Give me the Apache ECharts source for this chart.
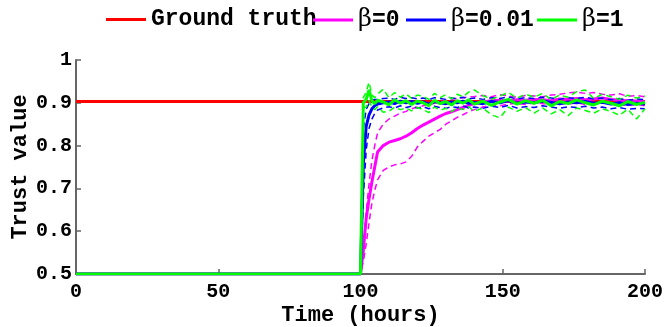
<!DOCTYPE html>
<html>
<head>
<meta charset="utf-8">
<script src="https://cdn.jsdelivr.net/npm/echarts@6/dist/echarts.min.js"></script>
<style>
  html, body { margin: 0; padding: 0; background: #fff; }
  #chart { width: 665px; height: 327px; }
</style>
</head>
<body>
<div id="chart"></div>
<script>
// sample times (hours)
const hours = [0, 100, 101, 102, 103, 104, 105, 106, 108, 110, 112, 114, 116, 118, 120, 122, 124, 126, 128, 130,
  132, 134, 136, 138, 140, 143, 146, 149, 152, 155, 158, 161, 164, 167, 170, 173, 176, 179, 182, 185, 188, 191, 194, 197, 200];

const truthHours = [0, 200];
const groundTruth = [0.903, 0.903];

// beta = 0 (mean, upper, lower)
const b0Mean = [0.5, 0.5, 0.555, 0.63, 0.675, 0.715, 0.75, 0.785, 0.80, 0.808, 0.812, 0.816, 0.822, 0.83, 0.84, 0.848, 0.855, 0.862, 0.869, 0.875,
  0.879, 0.884, 0.889, 0.894, 0.898, 0.902, 0.905, 0.906, 0.904, 0.907, 0.906, 0.908, 0.907, 0.905, 0.909, 0.908, 0.91, 0.907, 0.909, 0.911, 0.908, 0.906, 0.905, 0.904, 0.903];
const b0Upper = [0.5, 0.5, 0.565, 0.645, 0.71, 0.765, 0.80, 0.83, 0.85, 0.862, 0.869, 0.876, 0.88, 0.886, 0.89, 0.893, 0.896, 0.899, 0.902, 0.906,
  0.908, 0.91, 0.912, 0.914, 0.915, 0.917, 0.914, 0.919, 0.916, 0.913, 0.917, 0.916, 0.914, 0.918, 0.92, 0.923, 0.925, 0.922, 0.924, 0.92, 0.918, 0.921, 0.915, 0.917, 0.914];
const b0Lower = [0.5, 0.5, 0.53, 0.57, 0.62, 0.665, 0.695, 0.72, 0.742, 0.75, 0.755, 0.757, 0.762, 0.775, 0.797, 0.81, 0.822, 0.83, 0.838, 0.85,
  0.858, 0.866, 0.872, 0.879, 0.884, 0.89, 0.895, 0.893, 0.897, 0.899, 0.896, 0.9, 0.898, 0.895, 0.899, 0.897, 0.9, 0.896, 0.898, 0.901, 0.897, 0.895, 0.894, 0.896, 0.893];

// beta = 0.01
const b001Mean = [0.5, 0.5, 0.76, 0.845, 0.872, 0.886, 0.893, 0.897, 0.9, 0.902, 0.898, 0.904, 0.9, 0.903, 0.899, 0.902, 0.897, 0.903, 0.9, 0.898,
  0.902, 0.9, 0.904, 0.899, 0.901, 0.898, 0.903, 0.9, 0.905, 0.899, 0.902, 0.9, 0.904, 0.901, 0.898, 0.902, 0.9, 0.903, 0.899, 0.901, 0.897, 0.9, 0.896, 0.899, 0.897];
const b001Upper = [0.5, 0.5, 0.84, 0.885, 0.898, 0.905, 0.908, 0.908, 0.91, 0.911, 0.908, 0.913, 0.91, 0.912, 0.909, 0.911, 0.907, 0.912, 0.91, 0.908,
  0.911, 0.91, 0.913, 0.909, 0.911, 0.908, 0.912, 0.91, 0.914, 0.909, 0.912, 0.91, 0.913, 0.911, 0.908, 0.912, 0.91, 0.913, 0.909, 0.911, 0.907, 0.91, 0.906, 0.909, 0.907];
const b001Lower = [0.5, 0.5, 0.68, 0.79, 0.84, 0.862, 0.875, 0.883, 0.888, 0.891, 0.888, 0.893, 0.889, 0.892, 0.888, 0.891, 0.886, 0.892, 0.889, 0.887,
  0.891, 0.889, 0.893, 0.888, 0.89, 0.887, 0.892, 0.889, 0.894, 0.888, 0.891, 0.889, 0.893, 0.89, 0.887, 0.891, 0.889, 0.892, 0.888, 0.89, 0.886, 0.889, 0.885, 0.887, 0.886];

// beta = 1
const b1Mean = [0.5, 0.5, 0.9, 0.908, 0.93, 0.905, 0.898, 0.906, 0.902, 0.895, 0.907, 0.899, 0.905, 0.896, 0.904, 0.9, 0.893, 0.906, 0.898, 0.903,
  0.895, 0.905, 0.899, 0.907, 0.897, 0.904, 0.894, 0.902, 0.908, 0.897, 0.905, 0.899, 0.906, 0.893, 0.903, 0.898, 0.907, 0.9, 0.895, 0.904, 0.899, 0.893, 0.903, 0.896, 0.901];
const b1Upper = [0.5, 0.5, 0.912, 0.925, 0.948, 0.918, 0.912, 0.92, 0.932, 0.912, 0.924, 0.913, 0.921, 0.91, 0.918, 0.915, 0.908, 0.922, 0.912, 0.919,
  0.909, 0.92, 0.914, 0.925, 0.93, 0.917, 0.908, 0.916, 0.924, 0.911, 0.92, 0.913, 0.922, 0.908, 0.918, 0.913, 0.926, 0.93, 0.91, 0.92, 0.914, 0.908, 0.918, 0.911, 0.916];
const b1Lower = [0.5, 0.5, 0.888, 0.89, 0.905, 0.89, 0.884, 0.891, 0.878, 0.88, 0.89, 0.884, 0.888, 0.881, 0.889, 0.884, 0.877, 0.89, 0.883, 0.887,
  0.879, 0.889, 0.884, 0.891, 0.88, 0.888, 0.872, 0.865, 0.89, 0.88, 0.889, 0.876, 0.888, 0.874, 0.884, 0.87, 0.888, 0.882, 0.876, 0.886, 0.88, 0.871, 0.885, 0.862, 0.886];

const yTicks = [0.5, 0.6, 0.7, 0.8, 0.9, 1];

const FONT = 'Liberation Mono';

function pairs(xs, ys) {
  return xs.map((x, i) => [x, ys[i]]);
}

function solid(name, color, xs, ys) {
  return {
    name: name, type: 'line', symbol: 'none', animation: false,
    lineStyle: { color: color, width: 3 }, itemStyle: { color: color },
    data: pairs(xs, ys)
  };
}
function dashed(name, color, ys) {
  return {
    name: name, type: 'line', symbol: 'none', animation: false, silent: true,
    lineStyle: { color: color, width: 1.5, type: [6, 4] },
    data: pairs(hours, ys)
  };
}

function legendAt(left, name) {
  return {
    data: [name], left: left, top: 8, itemWidth: 40, itemHeight: 3, padding: 0,
    icon: 'rect',
    textStyle: {
      fontFamily: FONT, fontWeight: 'bold', fontSize: 23, color: '#000',
      rich: {
        g: { fontFamily: 'DejaVu Serif', fontWeight: 'normal', fontSize: 24, color: '#000' },
        t: { fontFamily: FONT, fontWeight: 'bold', fontSize: 23, color: '#000' }
      }
    },
    formatter: function (n) {
      if (n.indexOf('β') === 0) return '{g|β}{t|' + n.slice(1) + '}';
      return n;
    }
  };
}

const chart = echarts.init(document.getElementById('chart'));
chart.setOption({
  backgroundColor: '#fff',
  textStyle: { fontFamily: FONT, fontWeight: 'bold' },
  legend: [
    legendAt(106, 'Ground truth'),
    legendAt(313, 'β=0'),
    legendAt(406, 'β=0.01'),
    legendAt(537, 'β=1')
  ],
  grid: { left: 76, right: 20, top: 60, bottom: 53, outerBoundsMode: 'none' },
  xAxis: {
    type: 'value', min: 0, max: 200, interval: 50,
    name: 'Time (hours)', nameLocation: 'middle', nameGap: 30, nameMoveOverlap: false,
    nameTextStyle: { fontFamily: FONT, fontWeight: 'bold', fontSize: 22, color: '#000' },
    axisLine: { lineStyle: { color: '#666', width: 2 } },
    axisTick: { inside: true, length: 5, lineStyle: { color: '#666', width: 1.5 } },
    axisLabel: { fontFamily: FONT, fontWeight: 'bold', fontSize: 20, color: '#000', margin: 8 },
    splitLine: { show: false }
  },
  yAxis: {
    type: 'value', min: 0.5, max: 1, interval: 0.1,
    name: 'Trust value', nameLocation: 'middle', nameGap: 45, nameRotate: 90, nameMoveOverlap: false,
    nameTextStyle: { fontFamily: FONT, fontWeight: 'bold', fontSize: 22, color: '#000' },
    axisLine: { show: true, lineStyle: { color: '#666', width: 2 } },
    axisTick: { show: true, inside: true, length: 5, lineStyle: { color: '#666', width: 1.5 } },
    axisLabel: {
      fontFamily: FONT, fontWeight: 'bold', fontSize: 20, color: '#000', margin: 4,
      formatter: function (v) {
        const t = yTicks.find(k => Math.abs(k - v) < 1e-6);
        return t === 1 ? '1' : (t !== undefined ? t.toFixed(1) : '');
      }
    },
    splitLine: { show: false }
  },
  series: [
    solid('Ground truth', '#ff0000', truthHours, groundTruth),
    dashed('β=0 upper', '#ff00ff', b0Upper),
    dashed('β=0 lower', '#ff00ff', b0Lower),
    solid('β=0', '#ff00ff', hours, b0Mean),
    dashed('β=0.01 upper', '#0000ff', b001Upper),
    dashed('β=0.01 lower', '#0000ff', b001Lower),
    solid('β=0.01', '#0000ff', hours, b001Mean),
    dashed('β=1 upper', '#00ff00', b1Upper),
    dashed('β=1 lower', '#00ff00', b1Lower),
    solid('β=1', '#00ff00', hours, b1Mean)
  ]
});
</script>
</body>
</html>
